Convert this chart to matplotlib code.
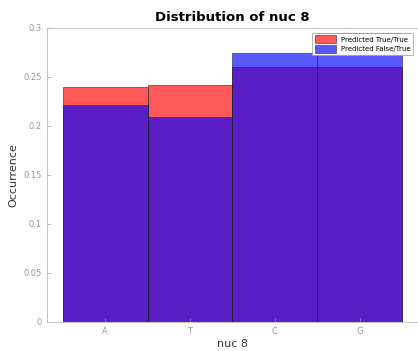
import matplotlib

matplotlib.use("Agg")
import matplotlib.pyplot as plt
import numpy as np

# Valores
nucleotidos = ["A", "T", "C", "G"]
pred_true_true = [0.240, 0.242, 0.260, 0.260]
pred_false_true = [0.221, 0.209, 0.274, 0.295]

fig = plt.figure(figsize=(4.18, 3.51), dpi=100)
ax = fig.add_axes([0.112, 0.083, 0.888, 0.838])

x = np.arange(1, len(nucleotidos) + 1)
ax.bar(x, pred_true_true, width=1.0, color="#ff0000", alpha=0.65,
       edgecolor="#222222", linewidth=0.6, label="Predicted True/True")
ax.bar(x, pred_false_true, width=1.0, color="#0000ff", alpha=0.65,
       edgecolor="#222222", linewidth=0.6, label="Predicted False/True")

ax.set_xlim(0.31, 4.69)
ax.set_ylim(0, 0.3)
ax.set_xticks(x)
ax.set_xticklabels(nucleotidos)
ax.set_yticks([0, 0.05, 0.1, 0.15, 0.2, 0.25, 0.3])
ax.set_yticklabels(["0", "0.05", "0.1", "0.15", "0.2", "0.25", "0.3"])
ax.tick_params(direction="in", labelsize=6, colors="#999999", length=3, width=0.5)
for s in ax.spines.values():
    s.set_color("#bbbbbb")
    s.set_linewidth(0.6)

ax.set_title("Distribution of nuc 8", fontsize=9.5, fontweight="bold", pad=5)
ax.set_xlabel("nuc 8", fontsize=8, color="#333333", labelpad=2)
ax.set_ylabel("Occurrence", fontsize=8, color="#333333", labelpad=4)

leg = ax.legend(loc="upper right", fontsize=5, frameon=True, fancybox=False,
                borderpad=0.35, handlelength=3.0, handleheight=1.5,
                labelspacing=0.15, borderaxespad=0.7, framealpha=1.0)
leg.get_frame().set_edgecolor("#999999")
leg.get_frame().set_linewidth(0.5)

fig.savefig("out.png", dpi=100)
